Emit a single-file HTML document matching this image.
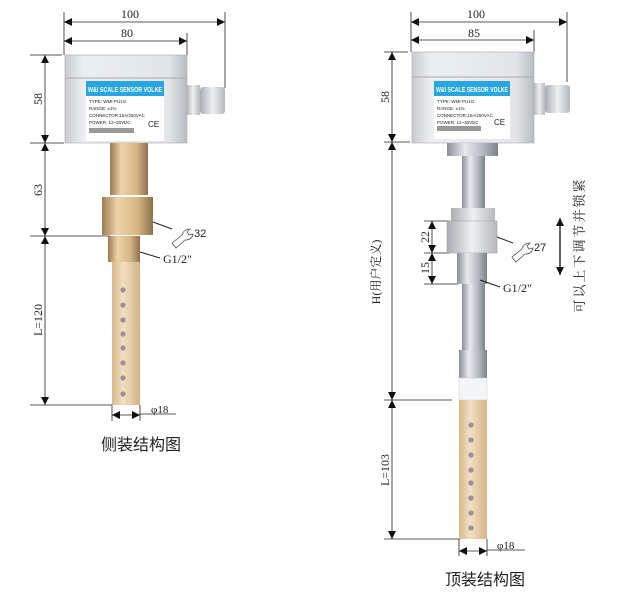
<!DOCTYPE html>
<html><head><meta charset="utf-8"><style>
html,body{margin:0;padding:0;background:#fff;}
svg{display:block;}
text{font-family:"Liberation Serif","Noto Serif CJK SC",serif;fill:#222;}
.s{font-family:"Liberation Sans","Noto Sans CJK SC",sans-serif;}
</style></head><body>
<svg width="620" height="601" viewBox="0 0 620 601" xmlns="http://www.w3.org/2000/svg">
<defs>
<marker id="a" markerWidth="8" markerHeight="8" refX="8" refY="4" orient="auto-start-reverse" markerUnits="userSpaceOnUse"><path d="M0,0 L8,4 L0,8 z" fill="#111"/></marker>
<linearGradient id="box" x1="0" x2="1"><stop offset="0" stop-color="#c9cbd0"/><stop offset=".15" stop-color="#eceef1"/><stop offset=".85" stop-color="#e3e5e9"/><stop offset="1" stop-color="#b8bbc1"/></linearGradient>
<linearGradient id="brass" x1="0" x2="1"><stop offset="0" stop-color="#9c7c52"/><stop offset=".3" stop-color="#eed3a8"/><stop offset=".7" stop-color="#d6b584"/><stop offset="1" stop-color="#8f714c"/></linearGradient>
<linearGradient id="tube" x1="0" x2="1"><stop offset="0" stop-color="#d6b88e"/><stop offset=".4" stop-color="#f2dfc1"/><stop offset="1" stop-color="#d2b487"/></linearGradient>
<linearGradient id="steel" x1="0" x2="1"><stop offset="0" stop-color="#8a8f98"/><stop offset=".35" stop-color="#e8eaee"/><stop offset=".7" stop-color="#b3b8c0"/><stop offset="1" stop-color="#7d828a"/></linearGradient>
<linearGradient id="gl" x1="0" x2="1"><stop offset="0" stop-color="#a9adb3"/><stop offset=".5" stop-color="#eef0f2"/><stop offset="1" stop-color="#b5b8bd"/></linearGradient>
</defs>
<g stroke="#222" stroke-width="0.8" fill="none">
<line x1="64" y1="12" x2="64" y2="55"/><line x1="225" y1="12" x2="225" y2="88"/><line x1="187" y1="33" x2="187" y2="55"/>
<line x1="64" y1="22" x2="225" y2="22" marker-start="url(#a)" marker-end="url(#a)"/>
<line x1="64" y1="41" x2="187" y2="41" marker-start="url(#a)" marker-end="url(#a)"/>
<line x1="30" y1="55" x2="62" y2="55"/><line x1="30" y1="143" x2="64" y2="143"/><line x1="30" y1="236" x2="110" y2="236"/><line x1="30" y1="405" x2="112" y2="405"/>
<line x1="45" y1="55" x2="45" y2="143" marker-start="url(#a)" marker-end="url(#a)"/>
<line x1="45" y1="143" x2="45" y2="236" marker-start="url(#a)" marker-end="url(#a)"/>
<line x1="45" y1="236" x2="45" y2="405" marker-start="url(#a)" marker-end="url(#a)"/>
<line x1="112" y1="405" x2="112" y2="421"/><line x1="140" y1="405" x2="140" y2="421"/>
<line x1="112" y1="415" x2="140" y2="415" marker-start="url(#a)" marker-end="url(#a)"/>
<line x1="140" y1="414" x2="176" y2="414"/>
<line x1="411" y1="12" x2="411" y2="52"/><line x1="567" y1="12" x2="567" y2="82"/><line x1="534" y1="30" x2="534" y2="52"/>
<line x1="411" y1="22" x2="567" y2="22" marker-start="url(#a)" marker-end="url(#a)"/>
<line x1="411" y1="40" x2="534" y2="40" marker-start="url(#a)" marker-end="url(#a)"/>
<line x1="384" y1="52" x2="408" y2="52"/><line x1="384" y1="142" x2="410" y2="142"/><line x1="384" y1="400" x2="452" y2="400"/><line x1="384" y1="539" x2="460" y2="539"/>
<line x1="392" y1="52" x2="392" y2="142" marker-start="url(#a)" marker-end="url(#a)"/>
<line x1="392" y1="142" x2="392" y2="400" marker-start="url(#a)" marker-end="url(#a)"/>
<line x1="392" y1="400" x2="392" y2="539" marker-start="url(#a)" marker-end="url(#a)"/>
<line x1="424" y1="221" x2="450" y2="221"/><line x1="424" y1="253" x2="450" y2="253"/><line x1="424" y1="284" x2="458" y2="284"/>
<line x1="432" y1="221" x2="432" y2="253" marker-start="url(#a)" marker-end="url(#a)"/>
<line x1="432" y1="253" x2="432" y2="284" marker-start="url(#a)" marker-end="url(#a)"/>
<line x1="560" y1="218" x2="560" y2="275" stroke-width="1.4" marker-start="url(#a)" marker-end="url(#a)"/>
<line x1="459" y1="539" x2="459" y2="556"/><line x1="487" y1="539" x2="487" y2="556"/>
<line x1="459" y1="551" x2="487" y2="551" marker-start="url(#a)" marker-end="url(#a)"/>
<line x1="487" y1="550" x2="525" y2="550"/>
</g>
<!-- LEFT DEVICE -->
<rect x="186" y="85" width="14" height="30" fill="url(#gl)"/>
<rect x="200" y="87" width="25" height="27" rx="3" fill="url(#gl)"/>
<rect x="65" y="55" width="122" height="88" fill="url(#box)" stroke="#aaa" stroke-width=".6"/>
<line x1="65" y1="78" x2="187" y2="78" stroke="#aaa"/>
<rect x="86" y="81" width="78" height="60" fill="#fff"/>
<rect x="86" y="81" width="78" height="15" fill="#27a6e1"/>
<text x="88" y="92" class="s" font-size="7" font-weight="bold" textLength="74" lengthAdjust="spacingAndGlyphs" style="fill:#fff">W&amp;I SCALE SENSOR VOLKE</text>
<g class="s" font-size="4.5" style="fill:#333"><text x="89" y="103" class="s">TYPE: WMI-PU1G</text><text x="89" y="110" class="s">RANGE: ±1%</text><text x="89" y="117" class="s">CONNECTOR:15A/250VAC</text><text x="89" y="124" class="s">POWER: 12~30VDC</text></g>
<text x="148" y="127" class="s" font-size="8">CE</text>
<rect x="89" y="128" width="45" height="5" fill="#555" opacity=".6"/>
<rect x="110" y="143" width="38" height="52" fill="url(#brass)"/>
<path d="M102,197 h51 v38 h-51z" fill="url(#brass)"/>
<rect x="108" y="236" width="32" height="26" fill="url(#brass)"/>
<rect x="112" y="262" width="28" height="143" fill="url(#tube)"/>
<g fill="#9b8fa0"><circle cx="123" cy="290" r="2.6"/><circle cx="123" cy="305" r="2.6"/><circle cx="123" cy="320" r="2.6"/><circle cx="123" cy="334" r="2.6"/><circle cx="123" cy="348" r="2.6"/><circle cx="123" cy="363" r="2.6"/><circle cx="123" cy="378" r="2.6"/><circle cx="123" cy="394" r="2.6"/></g>
<line x1="153" y1="222" x2="172" y2="229" stroke="#222"/>
<line x1="140" y1="252" x2="160" y2="258" stroke="#222"/>
<path d="M172,243 l10,-8 q2,-6 8,-6 l-3,3 2,3 4,-1 q-1,6 -8,6 l-9,8z" fill="none" stroke="#555" stroke-width=".8"/>
<text x="194" y="237" class="s" font-size="11">32</text>
<text x="163" y="263" font-size="12">G1/2"</text>
<text x="151" y="413" font-size="11">φ18</text>
<text x="141" y="450" class="s" font-size="16" text-anchor="middle">侧装结构图</text>
<g font-size="12"><text x="130" y="18" text-anchor="middle">100</text><text x="127" y="37" text-anchor="middle">80</text>
<text transform="translate(42,99) rotate(-90)" text-anchor="middle">58</text>
<text transform="translate(42,190) rotate(-90)" text-anchor="middle">63</text>
<text transform="translate(42,320) rotate(-90)" text-anchor="middle">L=120</text></g>
<!-- RIGHT DEVICE -->
<rect x="533" y="83" width="12" height="32" fill="url(#gl)"/>
<rect x="545" y="85" width="25" height="28" rx="3" fill="url(#gl)"/>
<rect x="412" y="52" width="122" height="91" fill="url(#box)" stroke="#aaa" stroke-width=".6"/>
<line x1="412" y1="77" x2="534" y2="77" stroke="#aaa"/>
<rect x="434" y="81" width="76" height="58" fill="#fff"/>
<rect x="434" y="81" width="76" height="15" fill="#27a6e1"/>
<text x="436" y="92" class="s" font-size="7" font-weight="bold" textLength="72" lengthAdjust="spacingAndGlyphs" style="fill:#fff">W&amp;I SCALE SENSOR VOLKE</text>
<g class="s" font-size="4.5" style="fill:#333"><text x="437" y="103" class="s">TYPE: WMI-PU1G</text><text x="437" y="110" class="s">RANGE: ±1%</text><text x="437" y="117" class="s">CONNECTOR:15A/250VAC</text><text x="437" y="124" class="s">POWER: 12~30VDC</text></g>
<text x="494" y="125" class="s" font-size="8">CE</text>
<rect x="437" y="126" width="44" height="5" fill="#555" opacity=".6"/>
<rect x="447" y="143" width="51" height="13" fill="url(#steel)"/>
<rect x="462" y="156" width="23" height="194" fill="url(#steel)"/>
<rect x="451" y="208" width="44" height="13" fill="url(#gl)"/>
<rect x="447" y="221" width="50" height="32" fill="url(#gl)" stroke="#999" stroke-width=".5"/>
<rect x="457" y="253" width="30" height="31" fill="url(#steel)"/>
<rect x="459" y="350" width="28" height="28" fill="url(#steel)"/>
<rect x="459" y="378" width="28" height="22" fill="#f4f5f7" stroke="#ccc" stroke-width=".5"/>
<rect x="459" y="400" width="28" height="139" fill="url(#tube)"/>
<g fill="#9b8fa0"><circle cx="471" cy="425" r="2.6"/><circle cx="471" cy="440" r="2.6"/><circle cx="471" cy="455" r="2.6"/><circle cx="471" cy="470" r="2.6"/><circle cx="471" cy="483" r="2.6"/><circle cx="471" cy="498" r="2.6"/><circle cx="471" cy="513" r="2.6"/><circle cx="471" cy="528" r="2.6"/></g>
<line x1="497" y1="237" x2="513" y2="243" stroke="#222"/>
<line x1="480" y1="280" x2="500" y2="287" stroke="#222"/>
<path d="M512,257 l10,-8 q2,-6 8,-6 l-3,3 2,3 4,-1 q-1,6 -8,6 l-9,8z" fill="none" stroke="#555" stroke-width=".8"/>
<text x="534" y="251" class="s" font-size="11">27</text>
<text x="503" y="292" font-size="12">G1/2"</text>
<text x="497" y="549" font-size="11">φ18</text>
<text x="485" y="585" class="s" font-size="16" text-anchor="middle">顶装结构图</text>
<g font-size="12"><text x="476" y="18" text-anchor="middle">100</text><text x="474" y="37" text-anchor="middle">85</text>
<text transform="translate(389,97) rotate(-90)" text-anchor="middle">58</text>
<text transform="translate(429,237) rotate(-90)" text-anchor="middle">22</text>
<text transform="translate(429,268) rotate(-90)" text-anchor="middle">15</text>
<text transform="translate(380,272) rotate(-90)" text-anchor="middle">H(用户定义)</text>
<text transform="translate(389,470) rotate(-90)" text-anchor="middle">L=103</text>
<text transform="translate(584,245) rotate(-90)" text-anchor="middle" font-size="13" letter-spacing="2">可以上下调节并锁紧</text></g>
</svg>
</body></html>
